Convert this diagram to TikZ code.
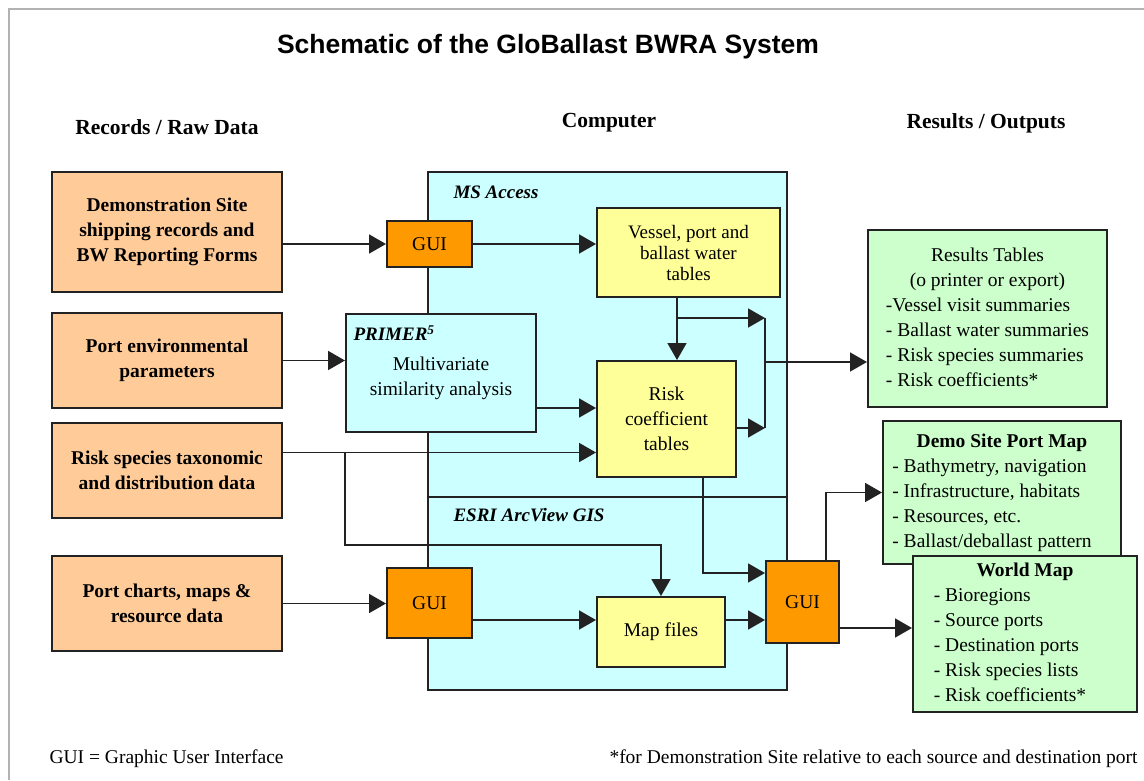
\documentclass[tikz,border=0pt]{standalone}
\usepackage{fontspec}
\setmainfont{Liberation Serif}
\newfontfamily\titlefont{Liberation Sans}
\usetikzlibrary{arrows.meta}

\definecolor{rawfill}{HTML}{FFCC99}
\definecolor{guifill}{HTML}{FF9900}
\definecolor{compfill}{HTML}{CCFFFF}
\definecolor{tabfill}{HTML}{FFFF99}
\definecolor{outfill}{HTML}{CCFFCC}
\definecolor{edge}{HTML}{222222}

\tikzset{
    kasten/.style={draw=edge, line width=2pt, rectangle, inner sep=2pt, align=center,
        font=\fontsize{19.5}{25}\selectfont},
    rawbox/.style={kasten, fill=rawfill, font=\fontsize{19.5}{25}\selectfont\bfseries},
    guibox/.style={kasten, fill=guifill},
    compbox/.style={kasten, fill=compfill},
    tabbox/.style={kasten, fill=tabfill},
    outbox/.style={kasten, fill=outfill},
    kopf/.style={font=\fontsize{21.5}{25}\selectfont\bfseries},
    prog/.style={font=\fontsize{19}{25}\selectfont\bfseries\itshape},
    pfeil/.style={draw=edge, line width=1.8pt, -{Triangle[length=17pt,width=19pt]}},
    linie/.style={draw=edge, line width=1.8pt}
}

\begin{document}
\begin{tikzpicture}[x=1pt, y=-1pt]
    \useasboundingbox (0,0) rectangle (1144,780);
    \draw[gray!60, line width=2pt] (9,780) -- (9,9) -- (1144,9);

    % headings
    \path node[font=\titlefont\fontsize{26.5}{30}\selectfont\bfseries] (titel) at (548,47) {Schematic of the GloBallast BWRA System}
        node[kopf] (records) at (167,127) {Records / Raw Data}
        node[kopf] (computer) at (609,123) {Computer}
        node[kopf] (outputs) at (986,123) {Results / Outputs};

    % computer block
    \path node[compbox, minimum width=359, minimum height=518] (comp) at (607.5,431) {};
    \coordinate (teil) at (607.5,497);
    \draw[linie] (comp.west |- teil) -- (comp.east |- teil);
    \path node[prog, anchor=west] (msaccess) at (450,192) {MS Access}
        node[prog, anchor=west] (esri) at (450,515) {ESRI ArcView GIS};

    % raw data
    \path node[rawbox, minimum width=230, minimum height=120] (demosite) at (167,232) {Demonstration Site\\shipping records and\\BW Reporting Forms}
        node[rawbox, minimum width=230, minimum height=95] (portenv) at (167,360.5) {Port environmental\\parameters}
        node[rawbox, minimum width=230, minimum height=95] (species) at (167,470.5) {Risk species taxonomic\\and distribution data}
        node[rawbox, minimum width=230, minimum height=95] (charts) at (167,603.5) {Port charts, maps \&\\resource data};

    % computer parts
    \path node[guibox, minimum width=85, minimum height=46] (guiA) at (429.5,244) {GUI}
        node[tabbox, minimum width=183, minimum height=89, font=\fontsize{19}{21}\selectfont] (vessel) at (688.5,252.5) {Vessel, port and\\ballast water\\tables}
        node[compbox, minimum width=190, minimum height=118] (primer) at (441,373) {\rule{0pt}{24pt}Multivariate\\similarity analysis}
        node[prog, anchor=west] (primername) at (350,333) {PRIMER\textsuperscript{5}}
        node[tabbox, minimum width=139, minimum height=116] (risk) at (666.5,419) {Risk\\coefficient\\tables}
        node[guibox, minimum width=85, minimum height=70] (guiB) at (429.5,603) {GUI}
        node[tabbox, minimum width=128, minimum height=70] (mapfiles) at (661,632) {Map files}
        node[guibox, minimum width=73, minimum height=82] (guiC) at (802.5,602) {GUI};

    % outputs
    \path node[outbox, minimum width=239, minimum height=177] (restab) at (987.5,318.5)
            {\begin{tabular}{@{}l@{}}\multicolumn{1}{c}{Results Tables}\\ \multicolumn{1}{c}{(o printer or export)}\\
             -Vessel visit summaries\\ - Ballast water summaries\\ - Risk species summaries\\ - Risk coefficients*\end{tabular}}
        node[outbox, minimum width=238, minimum height=143] (demo) at (1002,492.5)
            {\begin{tabular}{@{}l@{\hspace{20pt}}}\multicolumn{1}{@{}c@{}}{\bfseries Demo Site Port Map}\\
             - Bathymetry, navigation\\ - Infrastructure, habitats\\ - Resources, etc.\\ - Ballast/deballast pattern\end{tabular}}
        node[outbox, minimum width=224, minimum height=156] (world) at (1025,634)
            {\begin{tabular}{@{}l@{\hspace{30pt}}}\multicolumn{1}{@{}c@{}}{\bfseries World Map}\\
             - Bioregions\\ - Source ports\\ - Destination ports\\ - Risk species lists\\ - Risk coefficients*\end{tabular}};

    % connectors
    \draw[pfeil] (demosite.east |- guiA) -- (guiA.west);
    \draw[pfeil] (guiA.east) -- (guiA.east -| vessel.west);
    \draw[pfeil] (portenv.east) -- (portenv.east -| primer.west);
    \coordinate (abzweig) at (677,318);
    \coordinate (sammelO) at (765,318);
    \coordinate (sammelU) at (765,428);
    \coordinate (sammelM) at (765,362);
    \draw[pfeil] (vessel.south -| abzweig) -- (risk.north -| abzweig);
    \draw[pfeil] (abzweig) -- (sammelO);
    \draw[linie] (sammelO) -- (sammelU);
    \draw[pfeil] (risk.east |- sammelU) -- (sammelU);
    \draw[pfeil] (sammelM) -- (sammelM -| restab.west);
    \draw[pfeil] ([yshift=-35pt]primer.east) -- ([yshift=-35pt]primer.east -| risk.west);
    \coordinate (artenlinie) at ([yshift=18pt]species.east);
    \coordinate (kartenknick) at (346,545);
    \draw[pfeil] (artenlinie) -- (artenlinie -| risk.west);
    \draw[pfeil] (artenlinie -| primer.west) |- (kartenknick -| mapfiles.north) -- (mapfiles.north);
    \draw[pfeil] (charts.east) -- (charts.east -| guiB.west);
    \draw[pfeil] ([yshift=-17pt]guiB.east) -- ([yshift=-17pt]guiB.east -| mapfiles.west);
    \draw[pfeil] ([yshift=12pt]mapfiles.east) -- ([yshift=12pt]mapfiles.east -| guiC.west);
    \draw[pfeil] ([xshift=36.5pt]risk.south) |- ([yshift=29pt]guiC.west);
    \draw[pfeil] ([xshift=23.5pt]guiC.north) |- (demo.west);
    \draw[pfeil] ([yshift=-26pt]guiC.east) -- ([yshift=-26pt]guiC.east -| world.west);

    % footer
    \path node[font=\fontsize{19.5}{25}\selectfont, anchor=west] (legende) at (46,759) {GUI = Graphic User Interface}
        node[font=\fontsize{19.5}{25}\selectfont, anchor=east] (fussnote) at (1141,759) {*for Demonstration Site relative to each source and destination port};
\end{tikzpicture}
\end{document}
